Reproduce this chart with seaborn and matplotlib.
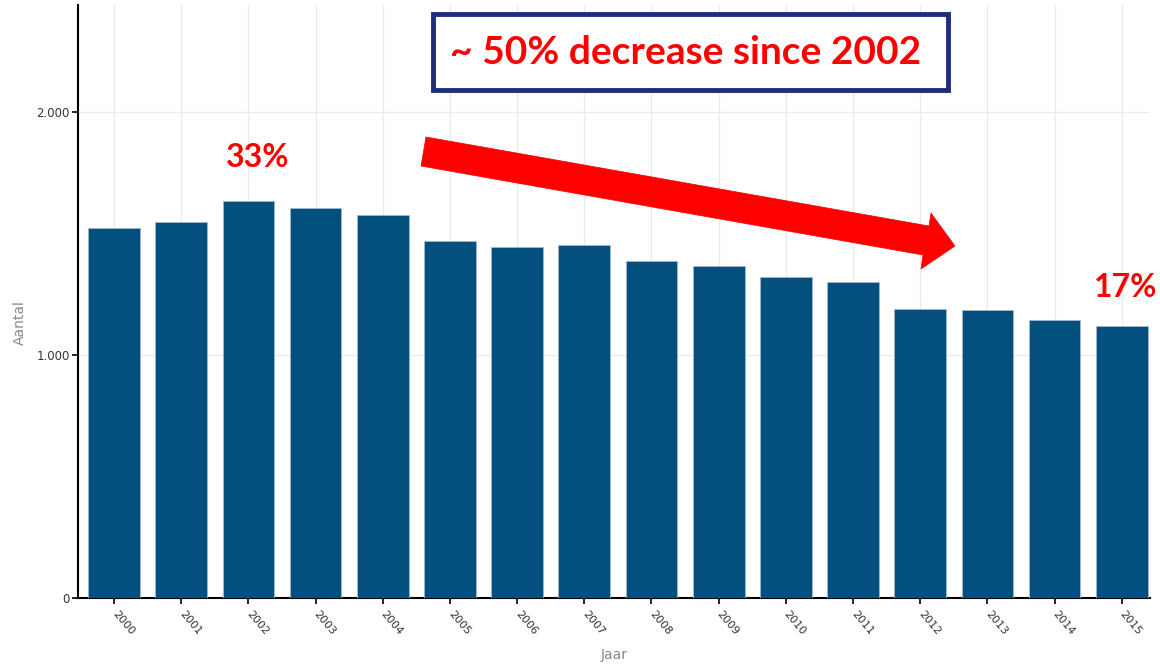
import matplotlib
matplotlib.use("Agg")
import matplotlib.pyplot as plt
import seaborn as sns
import pandas as pd
from matplotlib.patches import Polygon, Rectangle

years = ["2000", "2001", "2002", "2003", "2004", "2005", "2006", "2007",
         "2008", "2009", "2010", "2011", "2012", "2013", "2014", "2015"]
counts = [1523, 1547, 1634, 1605, 1576, 1469, 1444, 1453,
          1387, 1366, 1321, 1300, 1189, 1185, 1144, 1119]
ytick_vals = [0, 1000, 2000]
ytick_labels = ["0", "1.000", "2.000"]
title_text = "~ 50% decrease since 2002"
label_2002 = "33%"
label_2015 = "17%"

df = pd.DataFrame({"Jaar": years, "Aantal": counts})

sns.set_theme(style="white")
plt.rcParams['font.family'] = ['DejaVu Sans']

W, H = 1160, 664
fig = plt.figure(figsize=(W / 100, H / 100), dpi=100)
ax = fig.add_axes([78 / W, 1 - 598 / H, (1150 - 78) / W, (598 - 5) / H])

sns.barplot(data=df, x="Jaar", y="Aantal", color="#03507F", saturation=1,
            width=0.77, ax=ax, edgecolor="#9DB8CC", linewidth=0.6, zorder=3)

ax.set_xlim(-0.536, 15.42)
ax.set_ylim(0, 2440)
ax.set_yticks(ytick_vals)
ax.set_yticklabels(ytick_labels)
ax.grid(True, color="#EBEBEB", linewidth=1.0, zorder=0)
ax.set_axisbelow(True)

for s in ["top", "right"]:
    ax.spines[s].set_visible(False)
for s in ["left", "bottom"]:
    ax.spines[s].set_color("black")
    ax.spines[s].set_linewidth(1.5)

ax.tick_params(axis="both", which="both", direction="out", length=4, width=1.2,
               color="black", labelcolor="#333333", labelsize=8.5,
               bottom=True, left=True, pad=2)
ax.tick_params(axis="x", pad=6, labelsize=8)
for lbl in ax.get_xticklabels():
    lbl.set_rotation(-50)
    lbl.set_ha("left")
    lbl.set_va("center")
    lbl.set_rotation_mode("anchor")

ax.set_xlabel("Jaar", color="#888888", fontsize=10)
ax.set_ylabel("Aantal", color="#888888", fontsize=10)
ax.xaxis.set_label_coords(536 / 1072, -(655 - 598) / 593)
ax.yaxis.set_label_coords(-(78 - 20) / 1072, (598 - 323) / 593)
ax.xaxis.label.set_va("center")
ax.yaxis.label.set_va("center")

# annotations in figure pixel coordinates (top-origin)
def fp(x, y):
    return (x / W, 1 - y / H)

red = "#FF0000"
fig.text(*fp(258, 167), label_2002, color=red, fontsize=23, fontweight="bold",
         family="Lato", ha="center", va="baseline")
fig.text(*fp(1126, 297), label_2015, color=red, fontsize=23, fontweight="bold",
         family="Lato", ha="center", va="baseline")

box = Rectangle(fp(433, 90), (948 - 433) / W, (90 - 14) / H, transform=fig.transFigure,
                facecolor="white", edgecolor="#1F2D7A", linewidth=3.5, zorder=5)
fig.patches.append(box)
fig.text(*fp(686, 52), title_text, color=red, fontsize=28, fontweight="bold",
         family="Lato", ha="center", va="center", zorder=6)

arrow_pts = [fp(426, 137), fp(929, 226), fp(931, 213), fp(955, 246),
             fp(921, 269), fp(923, 255), fp(421, 166)]
arrow = Polygon(arrow_pts, closed=True, transform=fig.transFigure,
                facecolor=red, edgecolor=red, linewidth=0.5, zorder=5)
fig.patches.append(arrow)

fig.savefig("out.png", dpi=100)
